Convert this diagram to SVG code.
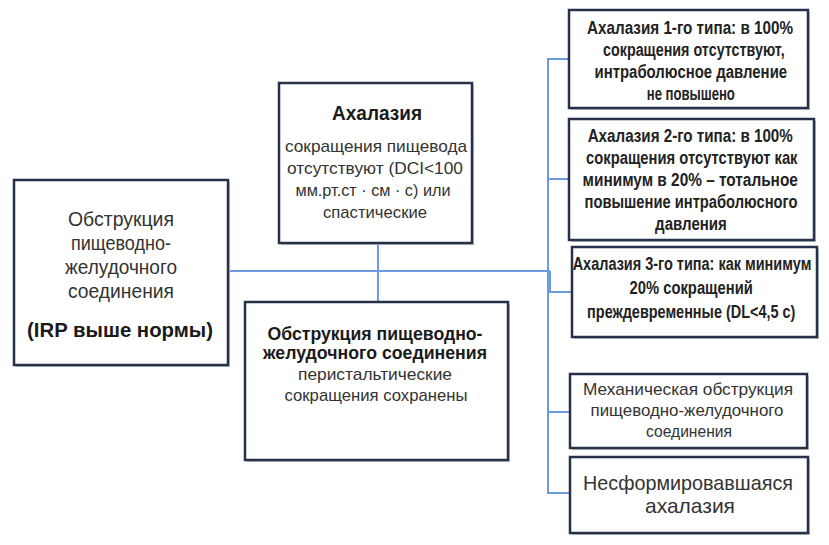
<svg xmlns="http://www.w3.org/2000/svg" width="829" height="545" viewBox="0 0 829 545">
<style>
.box{fill:#ffffff;stroke:#25324a;stroke-width:2.5}
.sh{fill:#c4c6ca}
.con{fill:none;stroke:#6e9be0;stroke-width:2}
.t{font-family:"Liberation Sans",Arial,sans-serif;fill:#333333;text-anchor:middle}
.b{font-weight:bold;fill:#1a1a1a}
.c{font-family:"Liberation Sans",Arial,sans-serif;font-weight:bold;fill:#222222;text-anchor:middle;font-size:19px}
</style>
<rect width="829" height="545" fill="#ffffff"/>
<g id="connectors">
<line class="con" x1="228" y1="271" x2="550" y2="271"/>
<line class="con" x1="378" y1="243" x2="378" y2="302"/>
<polyline class="con" points="569,59 548,59 548,493 570,493"/>
<line class="con" x1="548" y1="179" x2="569" y2="179"/>
<polyline class="con" points="550,271 550,292 572,292"/>
<line class="con" x1="548" y1="412" x2="570" y2="412"/>
</g>
<g id="n-root">
<rect class="sh" x="16" y="182" width="214" height="185"/>
<rect class="box" x="14" y="180" width="214" height="185"/>
<text class="t" font-size="20" x="121" y="226" textLength="106" lengthAdjust="spacingAndGlyphs">Обструкция</text>
<text class="t" font-size="20" x="121" y="250" textLength="100" lengthAdjust="spacingAndGlyphs">пищеводно-</text>
<text class="t" font-size="20" x="121" y="274" textLength="112" lengthAdjust="spacingAndGlyphs">желудочного</text>
<text class="t" font-size="20" x="121" y="298" textLength="106" lengthAdjust="spacingAndGlyphs">соединения</text>
<text class="t b" font-size="20" x="120" y="337" textLength="186" lengthAdjust="spacingAndGlyphs">(IRP выше нормы)</text>
</g>
<g id="n-achalasia">
<rect class="sh" x="281" y="85" width="193" height="160"/>
<rect class="box" x="279" y="83" width="193" height="160"/>
<text class="t b" font-size="20" x="377" y="120" textLength="90" lengthAdjust="spacingAndGlyphs">Ахалазия</text>
<text class="t" font-size="17" x="376" y="152" textLength="182" lengthAdjust="spacingAndGlyphs">сокращения  пищевода</text>
<text class="t" font-size="17" x="375" y="174" textLength="176" lengthAdjust="spacingAndGlyphs">отсутствуют  (DCI&lt;100</text>
<text class="t" font-size="17" x="373" y="196" textLength="155" lengthAdjust="spacingAndGlyphs">мм.рт.ст · см · с) или</text>
<text class="t" font-size="17" x="375" y="218" textLength="104" lengthAdjust="spacingAndGlyphs">спастические</text>
</g>
<g id="n-obstruction">
<rect class="sh" x="247" y="304" width="263" height="158"/>
<rect class="box" x="245" y="302" width="263" height="158"/>
<text class="t b" font-size="18" x="375" y="340" textLength="215" lengthAdjust="spacingAndGlyphs">Обструкция пищеводно-</text>
<text class="t b" font-size="18" x="375" y="359" textLength="224" lengthAdjust="spacingAndGlyphs">желудочного соединения</text>
<text class="t" font-size="17" x="375" y="380" textLength="154" lengthAdjust="spacingAndGlyphs">перистальтические</text>
<text class="t" font-size="17" x="376" y="401" textLength="183" lengthAdjust="spacingAndGlyphs">сокращения  сохранены</text>
</g>
<g id="n-type1">
<rect class="sh" x="571" y="12" width="239" height="98"/>
<rect class="box" x="569" y="10" width="239" height="98"/>
<g transform="translate(690,0) scale(0.78,1)">
<text class="c" x="0" y="34" textLength="264" lengthAdjust="spacingAndGlyphs">Ахалазия 1-го типа: в 100%</text>
<text class="c" x="5" y="56" textLength="233" lengthAdjust="spacingAndGlyphs">сокращения отсутствуют,</text>
<text class="c" x="1" y="78" textLength="247" lengthAdjust="spacingAndGlyphs">интраболюсное давление</text>
<text class="c" x="1" y="100" textLength="113" lengthAdjust="spacingAndGlyphs">не повышено</text>
</g>
</g>
<g id="n-type2">
<rect class="sh" x="571" y="121" width="245" height="121"/>
<rect class="box" x="569" y="119" width="245" height="121"/>
<g transform="translate(691,0) scale(0.78,1)">
<text class="c" x="-1" y="142" textLength="263" lengthAdjust="spacingAndGlyphs">Ахалазия 2-го типа: в 100%</text>
<text class="c" x="1" y="164" textLength="271" lengthAdjust="spacingAndGlyphs">сокращения отсутствуют как</text>
<text class="c" x="-1" y="186" textLength="276" lengthAdjust="spacingAndGlyphs">минимум в 20% – тотальное</text>
<text class="c" x="0" y="208" textLength="273" lengthAdjust="spacingAndGlyphs">повышение интраболюсного</text>
<text class="c" x="0" y="230" textLength="92" lengthAdjust="spacingAndGlyphs">давления</text>
</g>
</g>
<g id="n-type3">
<rect class="sh" x="574" y="249" width="245" height="90"/>
<rect class="box" x="572" y="247" width="245" height="90"/>
<g transform="translate(692,0) scale(0.78,1)">
<text class="c" x="0" y="270" textLength="306" lengthAdjust="spacingAndGlyphs">Ахалазия 3-го типа: как минимум</text>
<text class="c" x="-1" y="294" textLength="158" lengthAdjust="spacingAndGlyphs">20% сокращений</text>
<text class="c" x="-1" y="318" textLength="267" lengthAdjust="spacingAndGlyphs">преждевременные (DL&lt;4,5 с)</text>
</g>
</g>
<g id="n-mechanical">
<rect class="sh" x="572" y="376" width="237" height="74"/>
<rect class="box" x="570" y="374" width="237" height="74"/>
<text class="t" font-size="17" x="688" y="395" textLength="210" lengthAdjust="spacingAndGlyphs">Механическая  обструкция</text>
<text class="t" font-size="17" x="687" y="416" textLength="193" lengthAdjust="spacingAndGlyphs">пищеводно-желудочного</text>
<text class="t" font-size="17" x="689" y="437" textLength="86" lengthAdjust="spacingAndGlyphs">соединения</text>
</g>
<g id="n-incomplete">
<rect class="sh" x="572" y="459" width="238" height="76"/>
<rect class="box" x="570" y="457" width="238" height="76"/>
<text class="t" font-size="21" x="688" y="490" textLength="210" lengthAdjust="spacingAndGlyphs">Несформировавшаяся</text>
<text class="t" font-size="21" x="690" y="513" textLength="90" lengthAdjust="spacingAndGlyphs">ахалазия</text>
</g>
</svg>
